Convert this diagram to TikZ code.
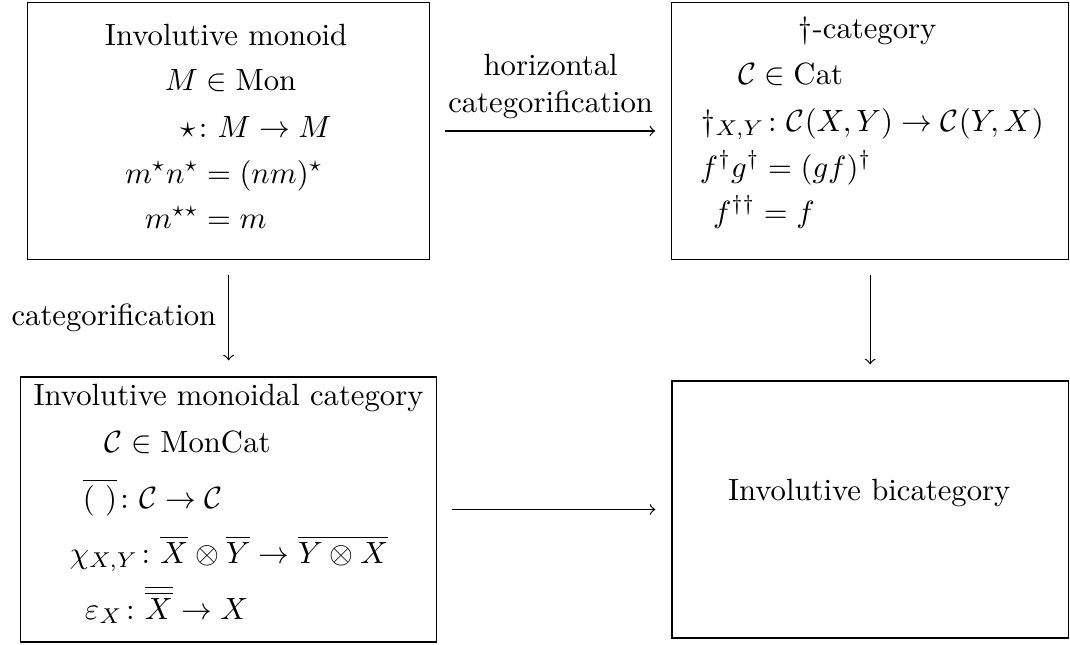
\documentclass[tikz,border=0pt]{standalone}
\usepackage{amsmath}
\begin{document}
\begin{tikzpicture}[x=0.3257pt,y=-0.3257pt,
  box/.style={draw, rectangle, inner sep=0pt, outer sep=0pt, line width=0.4pt},
  txt/.style={inner sep=0pt, outer sep=0pt, anchor=base west},
  arr/.style={->, line width=0.4pt, shorten <=5.1pt, shorten >=5.4pt}]
\useasboundingbox (0,0) rectangle (1070,644);
% boxes
\node[box, minimum width=130.87pt, minimum height=83.57pt] (tl) at (228.6,131) {};
\node[box, minimum width=129.24pt, minimum height=83.57pt] (tr) at (870.2,131) {};
\node[box, minimum width=135.43pt, minimum height=86.31pt] (bl) at (228.6,509.5) {};
\node[box, minimum width=129.14pt, minimum height=83.70pt] (br) at (870.2,509.5) {};
% top-left text
\node[txt] (tl1) at (105,45) {Involutive monoid};
\node[txt] (tl2) at (165,90) {$M\in\mathrm{Mon}$};
\node[txt] (tl3) at (180,137) {$\star\colon M\to M$};
\node[txt] (tl4) at (125,183) {$m^\star n^\star=(nm)^\star$};
\node[txt] (tl5) at (145,228) {$m^{\star\star}=m$};
% top-right text
\node[txt] (tr1) at (799,38) {$\dagger$-category};
\node[txt] (tr2) at (738,84) {$\mathcal{C}\in\mathrm{Cat}$};
\node[txt] (tr3) at (702,131) {$\dagger_{X,Y}\colon\mathcal{C}(X,Y)\to\mathcal{C}(Y,X)$};
\node[txt] (tr4) at (700,177) {$f^\dagger g^\dagger=(gf)^\dagger$};
\node[txt] (tr5) at (713,222) {$f^{\dagger\dagger}=f$};
% bottom-left text
\node[txt, anchor=base] (bl1) at (228.6,405) {Involutive monoidal category};
\node[txt] (bl2) at (105,452) {$\mathcal{C}\in\mathrm{MonCat}$};
\node[txt] (bl3) at (83,508) {$\overline{(\ )}\colon\mathcal{C}\to\mathcal{C}$};
\node[txt] (bl4) at (70,563) {$\chi_{X,Y}\colon\overline{X}\otimes\overline{Y}\to\overline{Y\otimes X}$};
\node[txt] (bl5) at (85,619) {$\varepsilon_X\colon\overline{\overline{X}}\to X$};
% bottom-right text
\node[txt] (br1) at (728,500) {Involutive bicategory};
% arrows
\draw[arr] (tl.east) -- node[midway, above, align=center, inner sep=3.9pt] (hl) {horizontal\\categorification} (tr.west);
\draw[arr] (tl.south) -- node[midway, left, inner sep=3.8pt] (vl) {categorification} (bl.north);
\draw[arr] (tr.south) -- (br.north);
\draw[arr] (bl.east) -- (br.west);
\end{tikzpicture}
\end{document}
